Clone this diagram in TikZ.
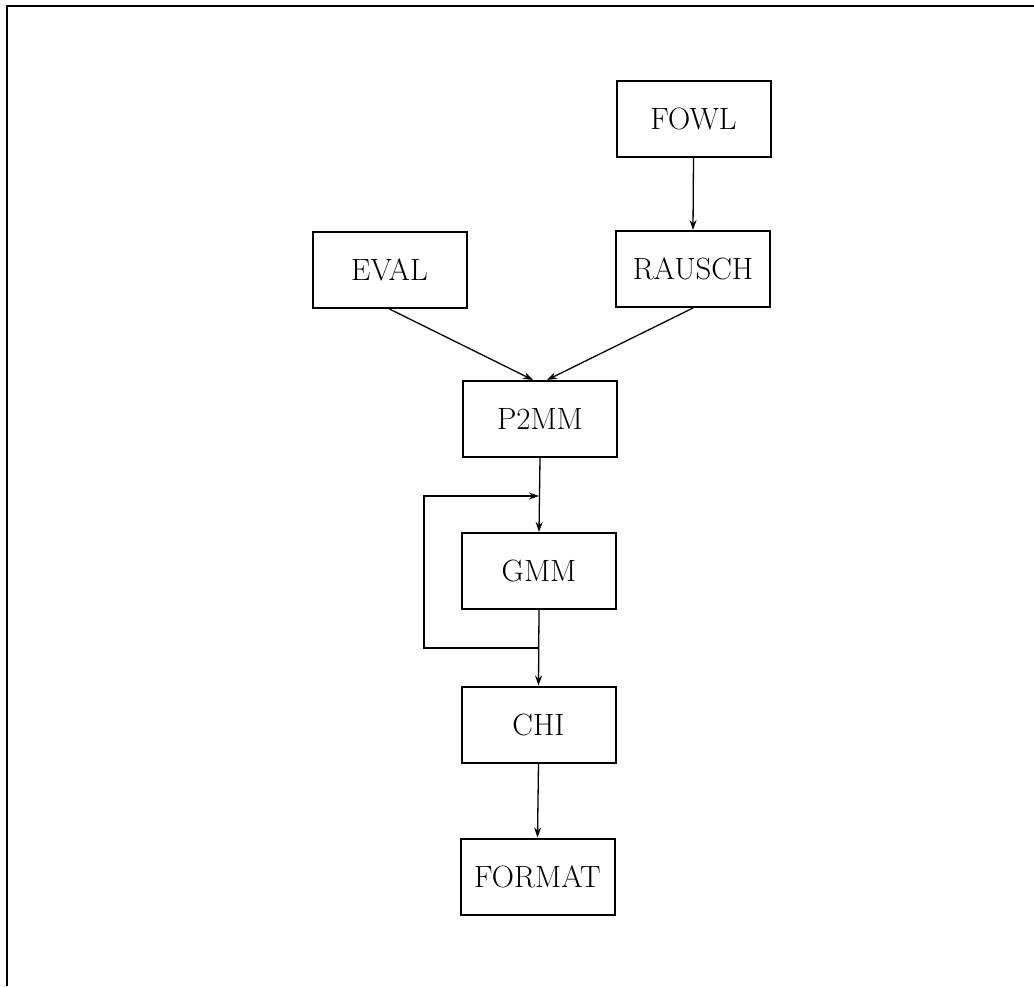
\documentclass[tikz,border=0pt]{standalone}
\usetikzlibrary{arrows.meta}
\begin{document}
\begin{tikzpicture}[x=0.5pt,y=-0.5pt,
  box/.style={draw, line width=1pt, minimum width=77pt, minimum height=38pt, inner sep=0pt, font=\fontsize{15.4}{18}\selectfont},
  arr/.style={line width=0.65pt, -{Stealth[length=5pt,width=3.5pt]}},
  ln/.style={line width=0.65pt}]
\useasboundingbox (0,0) rectangle (1034,986);
\draw[line width=1.2pt] (7,986) -- (7,6) -- (1034,6);
\node[box] (fowl) at (693.5,119) {FOWL};
\node[box] (rausch) at (693,269) {RAUSCH};
\node[box] (eval) at (389.5,270) {EVAL};
\node[box] (p2mm) at (540,419) {P2MM};
\node[box] (gmm) at (539,571) {GMM};
\node[box] (chi) at (538.5,724.5) {CHI};
\node[box] (format) at (537.5,876.5) {FORMAT};
\draw[arr] (fowl.south) -- (rausch.north);
\draw[arr] (eval.south) -- ([xshift=-3.5pt]p2mm.north);
\draw[arr] (rausch.south) -- ([xshift=3.5pt]p2mm.north);
\draw[arr] (p2mm.south) -- (gmm.north);
\draw[arr] (gmm.south) -- (chi.north);
\draw[arr] (chi.south) -- (format.north);
\coordinate (lb) at (539,648);
\coordinate (lbl) at (424,648);
\coordinate (ltl) at (424,496);
\coordinate (lt) at (539,496);
\draw[arr] (lb) -- (lbl) -- (ltl) -- (lt);
\end{tikzpicture}
\end{document}
